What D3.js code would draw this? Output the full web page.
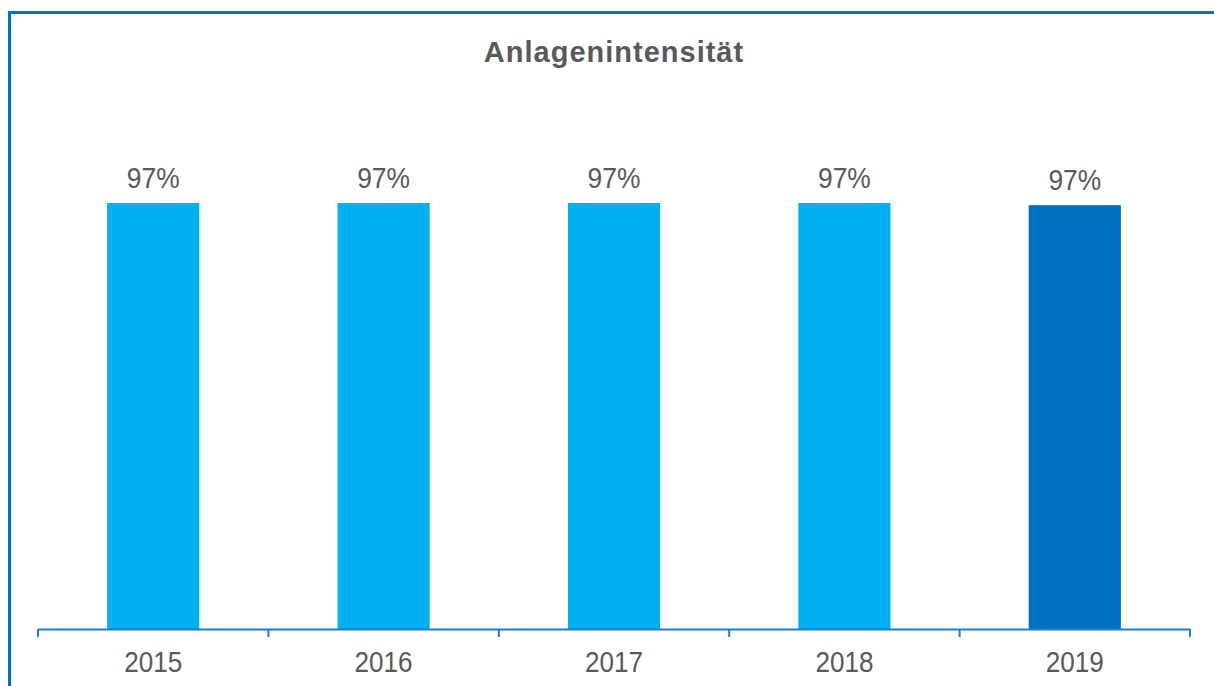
<!DOCTYPE html>
<html><head><meta charset="utf-8">
<script src="https://cdn.jsdelivr.net/npm/d3@7"></script>
<style>html,body{margin:0;padding:0;background:#fff;}svg{display:block;}</style>
</head><body>
<svg id="c" width="1214" height="686"></svg>
<script>
const title = "Anlagenintensität";
const categories = ["2015","2016","2017","2018","2019"];
const values = [0.974, 0.974, 0.974, 0.974, 0.969];
const valueLabels = ["97%","97%","97%","97%","97%"];
const barColors = ["#00B0F0","#00B0F0","#00B0F0","#00B0F0","#0070C0"];

const svg = d3.select("#c");
const font = "'Liberation Sans', Arial, sans-serif";
const textColor = "#595959";
const axisY = 629;

// frame
svg.append("path").attr("d","M9.5,690 L9.5,12.5 L1220,12.5")
  .attr("fill","none").attr("stroke","#0070C0").attr("stroke-width",3);

svg.append("text").attr("x",614).attr("y",62).attr("text-anchor","middle")
  .attr("font-family",font).attr("font-weight","bold").attr("font-size",29)
  .attr("letter-spacing",1)
  .attr("fill",textColor).text(title);

const x = d3.scaleBand().domain(categories).range([38,1190]).padding(0);
const y = d3.scaleLinear().domain([0,1.2]).range([axisY, axisY-1.2*437.4]);
const bw = x.bandwidth();

svg.selectAll("rect.bar").data(categories).enter().append("rect")
  .attr("x",d=>x(d)+bw*0.3).attr("width",bw*0.4)
  .attr("y",(d,i)=>y(values[i])).attr("height",(d,i)=>y(0)-y(values[i]))
  .attr("fill",(d,i)=>barColors[i]);

svg.selectAll("text.val").data(categories).enter().append("text")
  .attr("transform",(d,i)=>`translate(${x(d)+bw/2},${y(values[i])-15}) scale(0.91,1)`)
  .attr("text-anchor","middle").attr("font-family",font).attr("font-size",29)
  .attr("fill",textColor).text((d,i)=>valueLabels[i]);

// axis
const axisColor = "#1F7BCB";
svg.append("line").attr("x1",38).attr("x2",1190).attr("y1",axisY+0.5).attr("y2",axisY+0.5)
  .attr("stroke",axisColor).attr("stroke-width",2);
const tickPos = categories.map(d=>x(d)).concat([x(categories[categories.length-1])+bw]);
svg.selectAll("line.tick").data(tickPos).enter().append("line")
  .attr("x1",d=>d).attr("x2",d=>d).attr("y1",axisY).attr("y2",axisY+8)
  .attr("stroke",axisColor).attr("stroke-width",2);
svg.selectAll("text.cat").data(categories).enter().append("text")
  .attr("transform",d=>`translate(${x(d)+bw/2},672) scale(0.9,1)`)
  .attr("text-anchor","middle")
  .attr("font-family",font).attr("font-size",29).attr("fill",textColor).text(d=>d);
</script>
</body></html>
